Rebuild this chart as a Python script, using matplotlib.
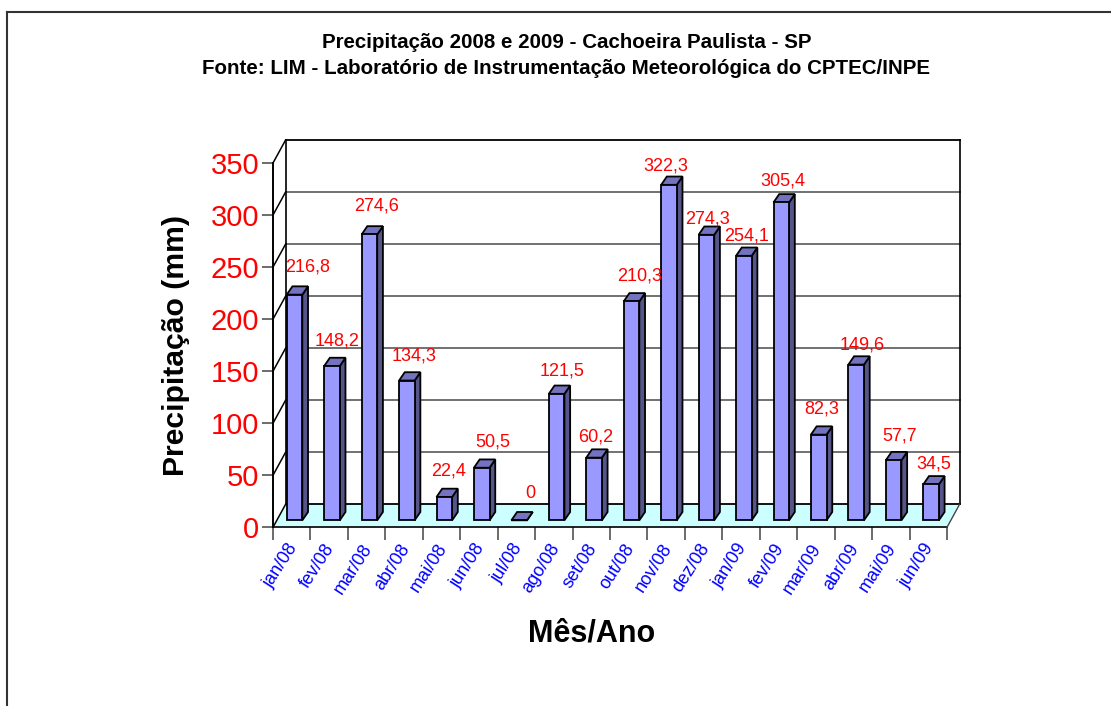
import numpy as np
import matplotlib
matplotlib.use("Agg")
import matplotlib.pyplot as plt
from matplotlib.lines import Line2D
from matplotlib.patches import Polygon

plt.rcParams['font.family'] = ['Liberation Sans', 'DejaVu Sans']

meses = ['jan/08', 'fev/08', 'mar/08', 'abr/08', 'mai/08', 'jun/08', 'jul/08', 'ago/08', 'set/08',
         'out/08', 'nov/08', 'dez/08', 'jan/09', 'fev/09', 'mar/09', 'abr/09', 'mai/09', 'jun/09']
chuva = [216.8, 148.2, 274.6, 134.3, 22.4, 50.5, 0, 121.5, 60.2,
         210.3, 322.3, 274.3, 254.1, 305.4, 82.3, 149.6, 57.7, 34.5]
rotulos = ['216,8', '148,2', '274,6', '134,3', '22,4', '50,5', '0', '121,5', '60,2',
           '210,3', '322,3', '274,3', '254,1', '305,4', '82,3', '149,6', '57,7', '34,5']
yticks = [0, 50, 100, 150, 200, 250, 300, 350]

# label nudges in pixels
nudge_x = [13, 5, 7, 7, 4, 11, 11, 5, 2, 8, -3, 1, 3, 2, 3, 6, 6, 3]
nudge_y = [28, 25, 28, 25, 26, 26, 27, 23, 21, 25, 19, 16, 20, 21, 26, 20, 24, 20]

W, H = 1111, 706
fig = plt.figure(figsize=(W / 100, H / 100), dpi=100)

# only the top and left edges of the frame are inside the picture
fig.add_artist(Line2D([6.5 / W, 1], [1 - 12 / H, 1 - 12 / H], color='#333333', lw=1.5))
fig.add_artist(Line2D([6.5 / W, 6.5 / W], [1 - 12 / H, 0], color='#333333', lw=1.5))

# the axes is the front plane of the fake 3d box
left, right, top, bottom = 273, 947, 163, 527.3
ax = fig.add_axes([left / W, 1 - bottom / H, (right - left) / W, (bottom - top) / H])
ax.set_xlim(0, len(meses))
ax.set_ylim(0, 350)
ax.patch.set_visible(False)
for s in ax.spines.values():
    s.set_visible(False)

ux = (right - left) / len(meses)
uy = (bottom - top) / 350
wall_dx = 12.6 / ux
wall_dy = 23.0 / uy
bar_w = 15.6 / ux
bar_dx = 5.7 / ux
bar_dy = 8.3 / uy
base = 7.0 / uy
x = np.arange(len(meses)) + 0.5 + 0.075
n = len(meses)

# back wall, floor
ax.add_patch(Polygon([(wall_dx, wall_dy), (n + wall_dx, wall_dy), (n + wall_dx, 350 + wall_dy), (wall_dx, 350 + wall_dy)],
                     fc='white', ec='none', clip_on=False, zorder=1))
ax.add_patch(Polygon([(0, 0), (n, 0), (n + wall_dx, wall_dy), (wall_dx, wall_dy)],
                     fc='#CCFFFF', ec='none', clip_on=False, zorder=1))
for v in yticks:
    cor = 'black' if v in (0, 350) else '#666666'
    ax.plot([wall_dx, n + wall_dx], [v + wall_dy, v + wall_dy], color=cor, lw=1.3, clip_on=False, zorder=2)
    ax.plot([0, wall_dx], [v, v + wall_dy], color='black', lw=1.1, clip_on=False, zorder=2)
ax.plot([0, 0], [0, 350], color='black', lw=1.4, clip_on=False, zorder=2)
ax.plot([wall_dx, wall_dx], [wall_dy, 350 + wall_dy], color='black', lw=1.2, clip_on=False, zorder=2)
ax.plot([n + wall_dx, n + wall_dx], [wall_dy, 350 + wall_dy], color='black', lw=1.2, clip_on=False, zorder=2)
ax.plot([0, n], [0, 0], color='black', lw=1.2, clip_on=False, zorder=2)
ax.plot([n, n + wall_dx], [0, wall_dy], color='#444444', lw=1.0, clip_on=False, zorder=2)

# bars
ax.bar(x, chuva, bottom=base, width=bar_w, color='#9999FF', edgecolor='black', linewidth=1.3, zorder=4, clip_on=False)
for xi, v in zip(x, chuva):
    x0, x1 = xi - bar_w / 2, xi + bar_w / 2
    y0, y1 = base, base + v
    ax.add_patch(Polygon([(x1, y0), (x1 + bar_dx, y0 + bar_dy), (x1 + bar_dx, y1 + bar_dy), (x1, y1)],
                         fc='#55558A', ec='black', lw=1.3, zorder=3, clip_on=False))
    ax.add_patch(Polygon([(x0, y1), (x1, y1), (x1 + bar_dx, y1 + bar_dy), (x0 + bar_dx, y1 + bar_dy)],
                         fc='#7373BF', ec='black', lw=1.3, zorder=3, clip_on=False))

for xi, v, r, nx, ny in zip(x, chuva, rotulos, nudge_x, nudge_y):
    ax.annotate(r, (xi, base + v), xytext=(nx, ny), textcoords='offset pixels', ha='center', va='center',
                color='red', fontsize=13, zorder=6, annotation_clip=False)

ax.set_yticks(yticks)
ax.set_yticklabels([str(v) for v in yticks], color='red', fontsize=21)
ax.set_xticks(np.arange(n + 1))
ax.set_xticklabels([])
ax.tick_params(axis='y', length=8, width=1.1, color='#444444', pad=2)
ax.tick_params(axis='x', length=9, width=1.1, color='#444444')

for i, m in enumerate(meses):
    ax.annotate(m, (i + 0.5, 0), xytext=(2, -18), textcoords='offset pixels', rotation=57, rotation_mode='anchor',
                ha='right', va='center', color='blue', fontsize=13, annotation_clip=False)

fig.text(567 / W, 1 - 43 / H, 'Precipitação 2008 e 2009 - Cachoeira Paulista - SP', ha='center', va='center',
         fontsize=14.8, fontweight='bold')
fig.text(566 / W, 1 - 68 / H, 'Fonte: LIM - Laboratório de Instrumentação Meteorológica do CPTEC/INPE', ha='center', va='center',
         fontsize=14.8, fontweight='bold')
fig.text(176 / W, 1 - 345 / H, 'Precipitação (mm)', rotation=90, ha='center', va='center', fontsize=21.7, fontweight='bold')
fig.text(592 / W, 1 - 634 / H, 'Mês/Ano', ha='center', va='center', fontsize=22, fontweight='bold')

fig.savefig('out.png', dpi=100)
